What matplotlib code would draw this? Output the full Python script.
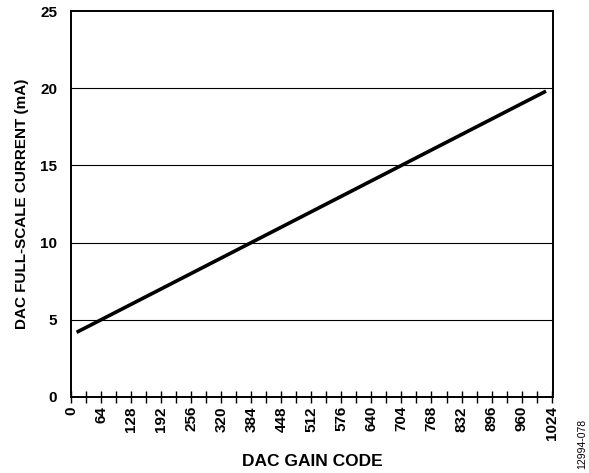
import matplotlib
matplotlib.use('Agg')
import matplotlib.pyplot as plt
import numpy as np

# DAC gain code vs full-scale current
gain_code = [12, 64, 128, 192, 256, 320, 384, 448, 512, 576, 640, 704, 768, 832, 896, 960, 1012]
current_ma = [4.19, 5.0, 6.0, 7.0, 8.0, 9.0, 10.0, 11.0, 12.0, 13.0, 14.0, 15.0, 16.0, 17.0, 18.0, 19.0, 19.81]
x_ticks = list(range(0, 1025, 64))
y_ticks = [0, 5, 10, 15, 20, 25]

plt.rcParams['font.family'] = ['Liberation Sans', 'DejaVu Sans']

fig = plt.figure(figsize=(5.89, 4.73), dpi=100)
ax = fig.add_axes([0.1205, 0.1607, 0.8185, 0.816])

for yv in y_ticks[1:-1]:
    ax.axhline(yv, color='black', lw=0.8, zorder=1)

ax.plot(gain_code, current_ma, color='black', lw=2.6, solid_capstyle='butt', zorder=3)

ax.set_xlim(0, 1027)
ax.set_ylim(0, 25)
ax.set_xticks(x_ticks)
ax.set_xticks(range(32, 1024, 64), minor=True)
ax.set_yticks(y_ticks)
ax.set_xticklabels([str(v) for v in x_ticks], rotation=90, fontweight='bold', fontsize=11)
ax.set_yticklabels([str(v) for v in y_ticks], fontweight='bold', fontsize=11)
ax.tick_params(axis='x', which='both', direction='inout', length=9, width=1.0, pad=2)
ax.tick_params(axis='y', length=0, pad=10)
for s in ax.spines.values():
    s.set_linewidth(1.4)

ax.set_xlabel('DAC GAIN CODE', fontweight='bold', fontsize=12.5, labelpad=10)
ax.set_ylabel('DAC FULL-SCALE CURRENT (mA)', fontweight='bold', fontsize=11, labelpad=8)

fig.text(0.988, 0.008, '12994-078', rotation=90, fontsize=7.5, ha='center', va='bottom')

plt.savefig('out.png', dpi=100)
